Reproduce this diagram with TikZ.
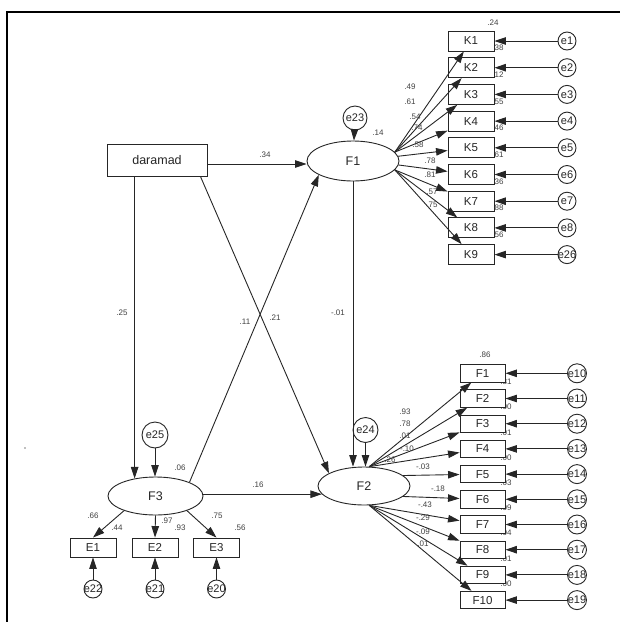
\documentclass[tikz,border=0pt]{standalone}
\usepackage{fontspec}
\setmainfont{Liberation Sans}
\usetikzlibrary{arrows.meta,shapes.geometric,calc}
\begin{document}
\begin{tikzpicture}[x=1pt,y=-1pt,
  ln/.style={draw=black!85, line width=0.9pt},
  arr/.style={ln, -{Triangle[length=11.5pt,width=7.5pt]}},
  obs/.style={draw=black!85, line width=0.9pt, fill=white, rectangle, inner sep=0pt, text=black!85, font=\fontsize{11.5}{11.5}\selectfont},
  lat/.style={draw=black!85, line width=0.9pt, ellipse, inner sep=0pt, fill=white, text=black!85, font=\fontsize{12.5}{12.5}\selectfont},
  err/.style={draw=black!85, line width=0.9pt, circle, inner sep=0pt, fill=white},
  errlbl/.style={text=black!85, inner sep=0pt, font=\fontsize{11}{11}\selectfont},
  num/.style={text=black!75, inner sep=0pt, font=\fontsize{8}{8}\selectfont},
]
\useasboundingbox (0,0) rectangle (620,622);
\draw[line width=2pt] (7,622) -- (7,12) -- (620,12);
\fill[black!50] (25,448) circle (0.8);

% corner labels (drawn before boxes)
\node[num] at (493,23) {.24};
\foreach \v [count=\i] in {.38,.12,.55,.46,.61,.36,.88,.56}
  \node[num] at (498,{48+26.7*(\i-1)}) {\v};
\node[num] at (485,355) {.86};
\foreach \v [count=\i] in {.81,.00,.01,.00,.03,.09,.04,.01,.00}
  \node[num] at (506,{382+25.2*(\i-1)}) {\v};

% K indicators
\foreach \e [count=\i] in {e1,e2,e3,e4,e5,e6,e7,e8,e26} {
  \node[obs, minimum width=46pt, minimum height=20pt] (K\i) at (471,{41+26.7*(\i-1)}) {K\i};
  \node[err, minimum size=18pt, label={[errlbl]center:\e}] (eK\i) at (567,{41+26.7*(\i-1)}) {};
  \draw[arr] (eK\i) -- (K\i);
}
% F indicators
\foreach \e [count=\i] in {e10,e11,e12,e13,e14,e15,e16,e17,e18,e19} {
  \node[obs, minimum width=45pt, minimum height=17.5pt] (FB\i) at (482.5,{373.3+25.2*(\i-1)}) {F\i};
  \node[err, minimum size=19pt, label={[errlbl]center:\e}] (eF\i) at (577,{373.3+25.2*(\i-1)}) {};
  \draw[arr] (eF\i) -- (FB\i);
}

% main nodes
\node[obs, minimum width=100pt, minimum height=32pt, font=\fontsize{12.5}{12.5}\selectfont] (dar) at (157,160) {daramad};
\node[lat, minimum width=92pt, minimum height=40pt] (F1) at (353,161) {F1};
\node[lat, minimum width=92pt, minimum height=38pt] (F2) at (364,486) {F2};
\node[lat, minimum width=95pt, minimum height=38pt] (F3) at (155.5,496) {F3};
\node[err, minimum size=24pt, label={[errlbl]center:e23}] (e23) at (355,118) {};
\node[err, minimum size=25pt, label={[errlbl]center:e24}] (e24) at (365.5,430) {};
\node[err, minimum size=26pt, label={[errlbl]center:e25}] (e25) at (155,435) {};

\node[obs, minimum width=46pt, minimum height=19pt] (E1) at (93,547.5) {E1};
\node[obs, minimum width=46pt, minimum height=19pt] (E2) at (155,547.5) {E2};
\node[obs, minimum width=46pt, minimum height=19pt] (E3) at (216.5,547.5) {E3};
\node[err, minimum size=18pt, label={[errlbl]center:e22}] (e22) at (93,589) {};
\node[err, minimum size=18pt, label={[errlbl]center:e21}] (e21) at (155,589) {};
\node[err, minimum size=18pt, label={[errlbl]center:e20}] (e20) at (216.5,589) {};

% structural paths
\draw[arr] ($(dar.east)+(0,4)$) -- ($(F1.west)+(0,3)$);
\draw[arr] (dar.south -| F3.140) -- (F3.140);
\draw[arr] ($(dar.south east)+(-7,0)$) -- (F2.160);
\draw[arr] (F3.22) -- (F1.202);
\draw[arr] (F1.south) -- (F1.south |- F2.north);
\draw[arr] (F3.east |- F2.191) -- (F2.191);
\draw[arr] (e23) -- (F1);
\draw[arr] (e24) -- (e24 |- F2.north);
\draw[arr] (e25) -- (e25 |- F3.north);

% F1 loadings
\foreach \i in {1,...,4} \draw[arr] (F1.12) -- (K\i);
\draw[arr] (F1.6) -- (K5);
\draw[arr] (F1.-5) -- (K6);
\foreach \i in {7,8,9} \draw[arr] (F1.-12) -- (K\i);

% F2 loadings
\foreach \i in {1,...,4} \draw[arr] (F2.75) -- (FB\i);
\draw[arr] (F2.15) -- (FB5);
\draw[arr] (F2.-15) -- (FB6);
\foreach \i in {7,...,10} \draw[arr] (F2.-75) -- (FB\i);

% F3 loadings
\draw[arr] (F3.205) -- (E1.north);
\draw[arr] (F3.south) -- (E2.north);
\draw[arr] (F3.-25) -- (E3.north);
\draw[arr] (e22) -- (E1);
\draw[arr] (e21) -- (E2);
\draw[arr] (e20) -- (E3);

% coefficient labels
\node[num] at (265,155) {.34};
\node[num] at (122,313) {.25};
\node[num] at (245,322) {.11};
\node[num] at (275,318) {.21};
\node[num] at (338,313) {-.01};
\node[num] at (258,485) {.16};
\node[num] at (378,133) {.14};
\node[num] at (180,468) {.06};
\node[num] at (93,516) {.66};
\node[num] at (117,528) {.44};
\node[num] at (167,521) {.97};
\node[num] at (180,528) {.93};
\node[num] at (217,516) {.75};
\node[num] at (240,528) {.56};

\node[num] at (410,87) {.49};
\node[num] at (410,102) {.61};
\node[num] at (415,117) {.54};
\node[num] at (417,128) {.74};
\node[num] at (418,145) {.58};
\node[num] at (430,161) {.78};
\node[num] at (430,175) {.81};
\node[num] at (432,192) {.57};
\node[num] at (432,205) {.75};

\node[num] at (405,412) {.93};
\node[num] at (405,424) {.78};
\node[num] at (405,436) {.01};
\node[num] at (407,449) {-.10};
\node[num] at (390,460) {.26};
\node[num] at (423,467) {-.03};
\node[num] at (438,489) {-.18};
\node[num] at (425,505) {-.43};
\node[num] at (423,518) {-.29};
\node[num] at (423,532) {-.09};
\node[num] at (423,544) {.01};
\end{tikzpicture}
\end{document}
